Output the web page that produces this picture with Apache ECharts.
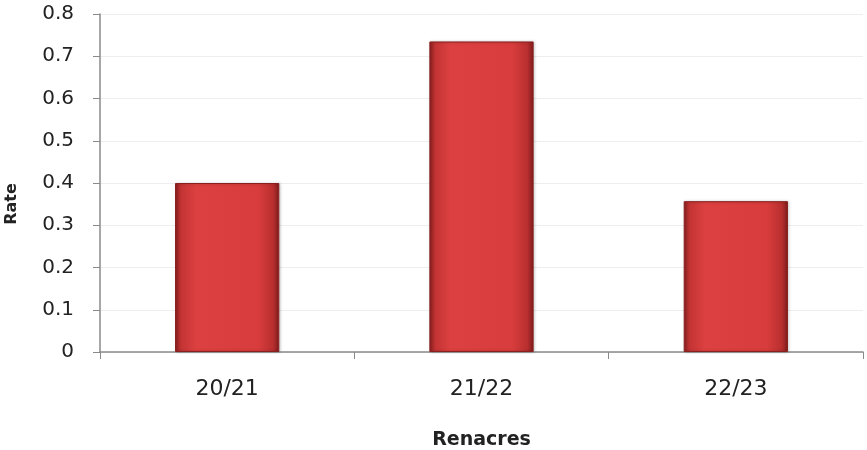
<!DOCTYPE html>
<html>
<head>
<meta charset="utf-8">
<script src="https://cdn.jsdelivr.net/npm/echarts@6/dist/echarts.min.js"></script>
<style>
  html, body { margin: 0; padding: 0; background: #fff; }
  #chart { width: 867px; height: 450px; }
</style>
</head>
<body>
<div id="chart"></div>
<script>
// Season categories and rate values
const seasons = ['20/21', '21/22', '22/23'];
const rates = [0.40, 0.735, 0.357];
const yTicks = [0, 0.1, 0.2, 0.3, 0.4, 0.5, 0.6, 0.7, 0.8];

const chart = echarts.init(document.getElementById('chart'));

const barFill = new echarts.graphic.LinearGradient(0, 0, 1, 0, [
  { offset: 0, color: '#8e1f1f' },
  { offset: 0.06, color: '#c43434' },
  { offset: 0.2, color: '#dc4040' },
  { offset: 0.8, color: '#d83c3c' },
  { offset: 0.94, color: '#b92f2f' },
  { offset: 1, color: '#7e1b1b' }
]);

chart.setOption({
  animation: false,
  grid: { left: 100, right: 4, top: 14, bottom: 98, containLabel: false, outerBoundsMode: 'none' },
  graphic: [{
    type: 'text',
    x: 12,
    y: 204,
    rotation: Math.PI / 2,
    style: {
      text: 'Rate',
      fontFamily: 'DejaVu Sans',
      fontWeight: 'bold',
      fontSize: 16,
      fill: '#222',
      align: 'center',
      verticalAlign: 'middle'
    }
  }],
  xAxis: {
    type: 'category',
    data: seasons,
    name: 'Renacres',
    nameLocation: 'middle',
    nameGap: 79,
    nameTextStyle: { fontFamily: 'DejaVu Sans', fontWeight: 'bold', fontSize: 19, color: '#222' },
    axisLine: { lineStyle: { color: '#8a8a8a', width: 1.5 } },
    axisTick: { show: true, alignWithLabel: false, length: 7, lineStyle: { color: '#8a8a8a' } },
    axisLabel: { fontFamily: 'DejaVu Sans', fontSize: 22, color: '#222', margin: 26 }
  },
  yAxis: {
    type: 'value',
    min: 0,
    max: 0.8,
    interval: 0.1,
    axisLine: { show: true, lineStyle: { color: '#8a8a8a', width: 1.5 } },
    axisTick: { show: true, length: 7, lineStyle: { color: '#8a8a8a' } },
    axisLabel: {
      fontFamily: 'DejaVu Sans', fontSize: 20, color: '#222', margin: 26,
      formatter: v => {
        const t = yTicks.find(x => Math.abs(x - v) < 1e-9);
        return t === undefined ? '' : String(t);
      }
    },
    splitLine: { show: true, lineStyle: { color: '#eeeeee', width: 1 } }
  },
  series: [{
    type: 'bar',
    data: rates,
    barWidth: '41%',
    itemStyle: {
      color: barFill,
      borderColor: '#8a2020',
      borderWidth: 1,
      shadowColor: 'rgba(0,0,0,0.25)',
      shadowBlur: 3,
      shadowOffsetX: 1,
      shadowOffsetY: 0
    }
  }]
});
</script>
</body>
</html>
